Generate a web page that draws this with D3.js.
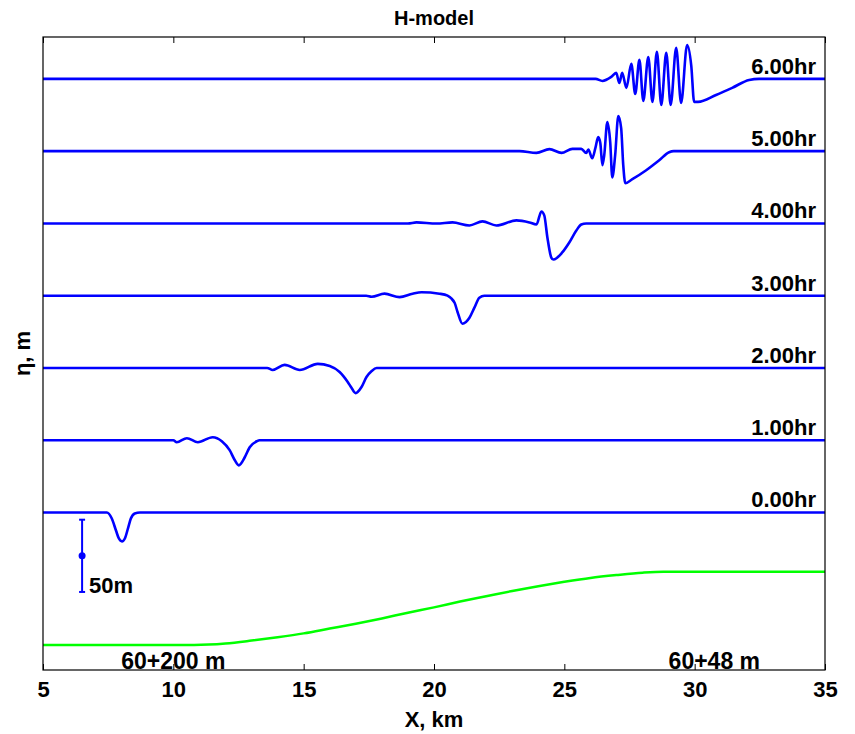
<!DOCTYPE html>
<html>
<head>
<meta charset="utf-8">
<script src="https://cdn.jsdelivr.net/npm/d3@7/dist/d3.min.js"></script>
<style>
  body { margin: 0; background: #fff; }
  text { font-family: "Liberation Sans", Arial, Helvetica, sans-serif; font-weight: bold; fill: #000; }
</style>
</head>
<body>
<svg id="chart" width="855" height="734"></svg>
<script>
// ---- data ----------------------------------------------------------------
const xTicks = [5, 10, 15, 20, 25, 30, 35];          // km
const hours = [0, 1, 2, 3, 4, 5, 6];                 // snapshot times
const traceSpacing = 50;                             // m between stacked traces
const scaleBarLength = 50;                           // m

// surface elevation eta (m) along X (km) at each snapshot
const eta0 = [[5,0],[7.45,0],[7.64,-4.2],[7.80,-12.5],[7.91,-18],[8.03,-20],[8.14,-18],[8.26,-11],[8.37,-4.2],[8.52,-0.7],[8.72,0],[35,0]];
const eta1 = [[5,0],[10.0,0],[10.13,-1.4],[10.52,1.4],[10.94,-1.4],[11.51,2.1],[11.86,-0.7],[12.16,-6.9],[12.36,-13.9],[12.51,-17.4],[12.74,-11.8],[12.93,-4.9],[13.20,-0.7],[13.31,0],[35,0]];
const eta2 = [[5,0],[13.6,0],[13.81,-1.4],[14.27,2.1],[14.85,-1.4],[15.54,2.8],[16.00,1.4],[16.38,-2.8],[16.69,-9.7],[16.84,-13.9],[16.99,-17.4],[17.22,-13.2],[17.41,-6.3],[17.61,-2.1],[17.80,0],[35,0]];
const eta3 = [[5,0],[17.4,0],[17.61,-0.7],[18.10,1.4],[18.68,-1.0],[19.18,1.4],[19.52,2.4],[20.21,1.4],[20.52,0],[20.79,-4.9],[20.90,-11.1],[21.09,-19.4],[21.36,-15.3],[21.55,-8.3],[21.74,-1.4],[21.93,0],[35,0]];
const eta4 = [[5,0],[19.0,0],[19.33,0.7],[20.10,0],[20.71,0.7],[21.36,-1.4],[21.86,1.4],[22.39,-1.4],[23.16,2.1],[23.66,0.7],[23.93,-0.7],[24.12,8.3],[24.23,5.6],[24.35,-9.7],[24.50,-23.6],[24.58,-25],[24.92,-20.1],[25.19,-13.2],[25.46,-4.9],[25.65,-0.7],[25.84,0],[35,0]];
const eta5 = [[5,0],[23.0,0],[23.28,0],[23.93,-1.2],[24.43,1.4],[24.89,-1.2],[25.31,1.6],[25.65,1.6],[25.84,-1.2],[25.92,1.2],[26.07,-4.9],[26.19,2.1],[26.30,9.7],[26.38,5.6],[26.46,-9.7],[26.53,-2.8],[26.65,20.1],[26.76,6.3],[26.84,-18.1],[26.95,-2.8],[27.07,24.3],[27.18,16],[27.26,-9.7],[27.34,-22.2],[27.61,-19.4],[28.14,-13.2],[28.64,-6.3],[29.02,-0.7],[29.2,0],[35,0]];
const eta6 = [[5,0],[26.2,0],[26.46,-1.4],[26.80,1.4],[26.99,4.2],[27.11,-2.8],[27.22,4.2],[27.38,-6.2],[27.57,10.4],[27.72,-10.4],[27.88,13.2],[28.03,-15.2],[28.22,15.2],[28.38,-15.9],[28.55,18.7],[28.72,-18],[28.91,18],[29.08,-18],[29.29,21.5],[29.48,-16.6],[29.71,23.5],[29.87,9],[29.98,-15.9],[30.13,-15.9],[30.82,-11.1],[31.44,-6.2],[32.09,-0.7],[32.47,0],[35,0]];
const etaSeries = [eta0, eta1, eta2, eta3, eta4, eta5, eta6];

// still-water depth h (m) along X (km)
const depth = [[5,200],[10.8,200],[12,197],[13,191],[14,184],[15,176],[16,166],[17,156],[18,145],[19,133],[20,122],[21,110],[22,99],[23,88],[24,78],[25,69],[26,61],[27,55],[28,50],[28.8,48],[35,48]];
const depthLabels = [{x: 8, text: "60+200 m"}, {x: 29, text: "60+48 m"}];

// ---- layout ----------------------------------------------------------------
const W = 855, H = 734;
const margin = {left: 43, right: 30, top: 37, bottom: 64};
const svg = d3.select("#chart");
const x = d3.scaleLinear().domain([5, 35]).range([margin.left, W - margin.right]);
const y = d3.scaleLinear().domain([-109, 329]).range([H - margin.bottom, margin.top]);
// bathymetry drawn at a third of the vertical scale, hung below the traces
const yDepth = h => y(-25 - h / 3);

const blue = "#0000ff";
const fs = 22;

svg.append("defs").append("clipPath").attr("id", "plot")
  .append("rect")
  .attr("x", x(5)).attr("y", y(329))
  .attr("width", x(35) - x(5)).attr("height", y(-109) - y(329));

const plot = svg.append("g").attr("clip-path", "url(#plot)");

// bathymetry
plot.append("path")
  .datum(depth)
  .attr("fill", "none")
  .attr("stroke", "#00ff00")
  .attr("stroke-width", 2.5)
  .attr("d", d3.line().x(d => x(d[0])).y(d => yDepth(d[1])).curve(d3.curveMonotoneX));

// stacked surface traces
hours.forEach((hr, i) => {
  const off = hr * traceSpacing;
  plot.append("path")
    .datum(etaSeries[i])
    .attr("fill", "none")
    .attr("stroke", blue)
    .attr("stroke-width", 2.6)
    .attr("stroke-linejoin", "round")
    .attr("d", d3.line().x(d => x(d[0])).y(d => y(off + d[1])).curve(d3.curveMonotoneX));

  svg.append("text")
    .attr("x", x(35) - 9)
    .attr("y", y(off) - 5)
    .attr("text-anchor", "end")
    .style("font-size", fs + "px")
    .text(d3.format(".2f")(hr) + "hr");
});

// 50 m scale bar
const sbX = 6.5, sbTop = -5, sbBot = sbTop - scaleBarLength;
const sb = svg.append("g").attr("stroke", blue).attr("stroke-width", 2);
sb.append("line").attr("x1", x(sbX)).attr("x2", x(sbX)).attr("y1", y(sbTop)).attr("y2", y(sbBot));
[sbTop, sbBot].forEach(v => sb.append("line")
  .attr("x1", x(sbX) - 3).attr("x2", x(sbX) + 3).attr("y1", y(v)).attr("y2", y(v)));
svg.append("circle").attr("cx", x(sbX)).attr("cy", y((sbTop + sbBot) / 2)).attr("r", 3.5).attr("fill", blue);
svg.append("text")
  .attr("x", x(sbX) + 7).attr("y", y(sbBot) + 1)
  .style("font-size", fs + "px")
  .text(scaleBarLength + "m");

// depth annotations
depthLabels.forEach(d => svg.append("text")
  .attr("x", x(d.x)).attr("y", y(-109) - 1)
  .style("font-size", "23px")
  .text(d.text));

// axes with inward ticks
const gx = svg.append("g")
  .attr("transform", `translate(0,${y(-109)})`)
  .call(d3.axisBottom(x).tickValues(xTicks).tickSize(-6).tickPadding(11).tickFormat(d3.format("d")));
gx.selectAll("text").style("font-size", fs + "px");
const gt = svg.append("g")
  .attr("transform", `translate(0,${y(329)})`)
  .call(d3.axisTop(x).tickValues(xTicks).tickSize(-6).tickFormat(""));
[gx, gt].forEach(g => {
  g.select(".domain").remove();
  g.selectAll("line").attr("stroke", "#000");
});

// frame
svg.append("rect")
  .attr("x", x(5)).attr("y", y(329))
  .attr("width", x(35) - x(5)).attr("height", y(-109) - y(329))
  .attr("fill", "none").attr("stroke", "#000").attr("stroke-width", 1.2);

// titles
svg.append("text")
  .attr("x", (x(5) + x(35)) / 2).attr("y", 25)
  .attr("text-anchor", "middle")
  .style("font-size", "20px")
  .text("H-model");
svg.append("text")
  .attr("x", (x(5) + x(35)) / 2).attr("y", 727)
  .attr("text-anchor", "middle")
  .style("font-size", fs + "px")
  .text("X, km");
svg.append("text")
  .attr("transform", `translate(30,${(y(329) + y(-109)) / 2}) rotate(-90)`)
  .attr("text-anchor", "middle")
  .style("font-size", fs + "px")
  .text("η, m");
</script>
</body>
</html>
